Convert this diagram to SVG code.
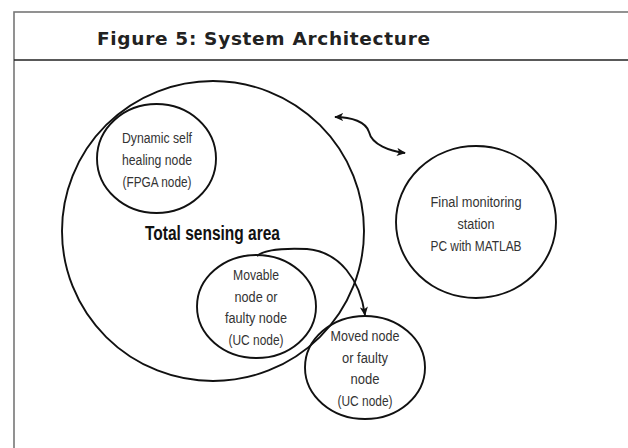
<svg xmlns="http://www.w3.org/2000/svg" width="628" height="448" viewBox="0 0 628 448">
<style>
.node{fill:none;stroke:#111;stroke-width:1.9}
.lbl{font-family:"Liberation Sans",Arial,sans-serif;font-size:15.5px;fill:#333;text-anchor:middle}
.conn{fill:none;stroke:#111;stroke-width:1.9}
</style>
<defs>
<marker id="ah" viewBox="0 0 10 10" refX="9" refY="5" markerWidth="9" markerHeight="9" markerUnits="userSpaceOnUse" orient="auto-start-reverse">
<path d="M0,0.5 L10,5 L0,9.5 L2.5,5 z" fill="#111"/>
</marker>
</defs>
<rect width="628" height="448" fill="#fff"/>
<g id="frame">
<rect x="14" y="12" width="640" height="460" fill="none" stroke="#777" stroke-width="1.6"/>
<line x1="14" y1="60" x2="628" y2="60" stroke="#222" stroke-width="1.6"/>
<text x="97" y="45" textLength="333" font-family="DejaVu Sans,Liberation Sans,sans-serif" font-size="18.5" font-weight="bold" fill="#222">Figure 5: System Architecture</text>
</g>
<g id="total-sensing-area">
<ellipse class="node" cx="213" cy="231" rx="151" ry="150"/>
<text x="145" y="240" textLength="135" lengthAdjust="spacingAndGlyphs" font-family="Liberation Sans,Arial,sans-serif" font-size="20" font-weight="bold" fill="#111">Total sensing  area</text>
</g>
<g id="fpga-node">
<ellipse class="node" cx="156.5" cy="158.5" rx="59.5" ry="54.5"/>
<text class="lbl" x="157" y="143" textLength="70" lengthAdjust="spacingAndGlyphs">Dynamic self</text>
<text class="lbl" x="157" y="165" textLength="70" lengthAdjust="spacingAndGlyphs">healing node</text>
<text class="lbl" x="157" y="187" textLength="69" lengthAdjust="spacingAndGlyphs">(FPGA node)</text>
</g>
<g id="monitoring-station">
<ellipse class="node" cx="476" cy="222" rx="80" ry="76"/>
<text class="lbl" x="476" y="207" textLength="91" lengthAdjust="spacingAndGlyphs">Final monitoring</text>
<text class="lbl" x="476" y="229" textLength="37" lengthAdjust="spacingAndGlyphs">station</text>
<text class="lbl" x="476" y="251" textLength="91" lengthAdjust="spacingAndGlyphs">PC with MATLAB</text>
</g>
<g id="movable-node">
<ellipse class="node" cx="256.5" cy="306.5" rx="59.5" ry="51.5"/>
<text class="lbl" x="256" y="280" textLength="46" lengthAdjust="spacingAndGlyphs">Movable</text>
<text class="lbl" x="256" y="302" textLength="43" lengthAdjust="spacingAndGlyphs">node or</text>
<text class="lbl" x="256" y="323" textLength="62" lengthAdjust="spacingAndGlyphs">faulty node</text>
<text class="lbl" x="256" y="345" textLength="55" lengthAdjust="spacingAndGlyphs">(UC node)</text>
</g>
<g id="moved-node">
<ellipse class="node" cx="365" cy="367.5" rx="60" ry="51.5"/>
<text class="lbl" x="365" y="341" textLength="69" lengthAdjust="spacingAndGlyphs">Moved node</text>
<text class="lbl" x="365" y="363" textLength="46" lengthAdjust="spacingAndGlyphs">or faulty</text>
<text class="lbl" x="365" y="384" textLength="29" lengthAdjust="spacingAndGlyphs">node</text>
<text class="lbl" x="365" y="406" textLength="55" lengthAdjust="spacingAndGlyphs">(UC node)</text>
</g>
<g id="connectors">
<path class="conn" d="M335 117 C352 117 366 122 369 132 C372 145 390 151 405 153" marker-start="url(#ah)" marker-end="url(#ah)"/>
<path class="conn" d="M257 256 C265 249 285 248 307 249 C340 252 360 280 365 315" marker-end="url(#ah)"/>
</g>
</svg>
